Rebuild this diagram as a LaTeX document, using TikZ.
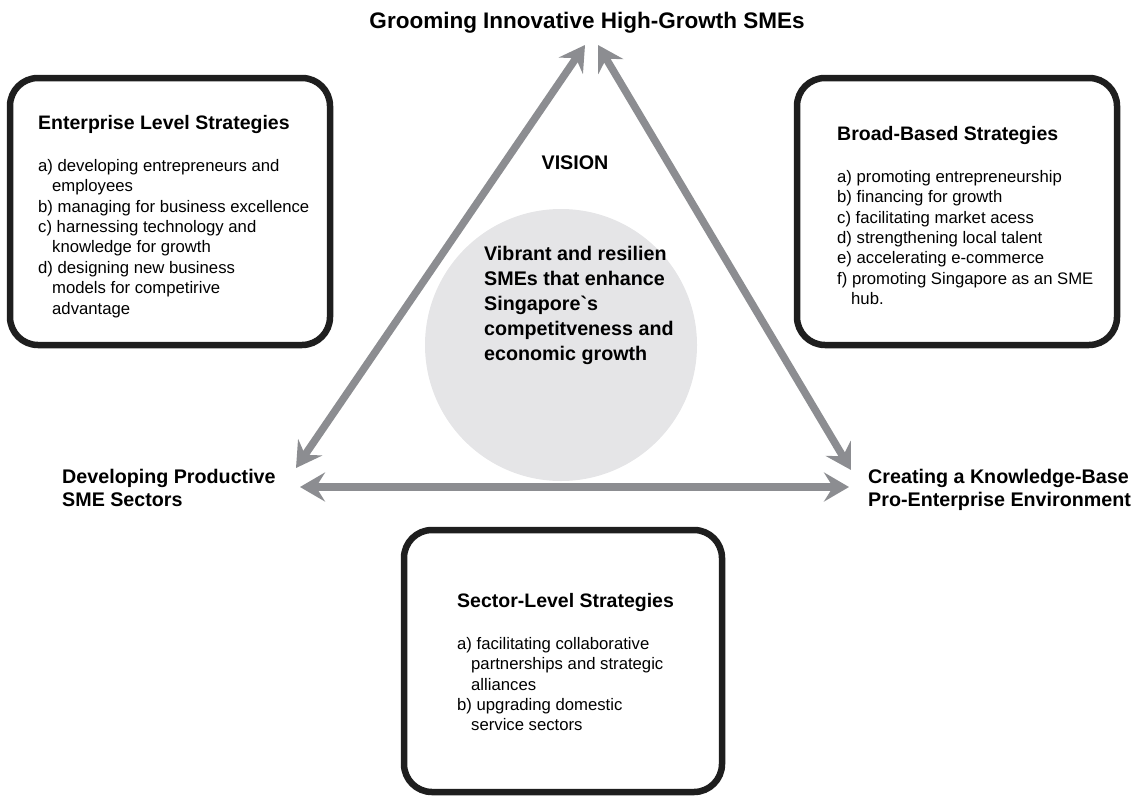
\documentclass[tikz,border=0pt]{standalone}
\usepackage{fontspec}
\setmainfont{Liberation Sans}[Ligatures=TeXOff]
\usetikzlibrary{arrows.meta}
\definecolor{arrowgray}{RGB}{140,141,145}
\definecolor{visiongray}{RGB}{229,229,231}
\definecolor{framegray}{RGB}{30,30,30}
\newcommand{\ind}{\hspace*{14pt}}

\begin{document}
\begin{tikzpicture}[x=1pt,y=-1pt,
    stratbox/.style={draw=framegray,line width=6.5pt,rounded corners=28pt},
    boxhead/.style={anchor=base west,inner sep=0pt,font=\fontsize{19.5}{24}\selectfont\bfseries},
    boxlist/.style={anchor=north west,align=left,inner sep=0pt,font=\fontsize{16.7}{20.4}\selectfont},
    corner/.style={anchor=north west,align=left,inner sep=0pt,font=\fontsize{19.7}{23.5}\selectfont\bfseries},
    twoway/.style={arrowgray,line width=7.5pt,{Stealth[length=25pt,width=29pt,inset=9pt]}-{Stealth[length=25pt,width=29pt,inset=9pt]}}]
        \useasboundingbox (0,0) rectangle (1137,795);
        % vision in the middle
        \fill[visiongray] (561,345) circle (136);
        \node[anchor=center,font=\fontsize{19.7}{24}\selectfont\bfseries] (vision) at (575,163) {VISION};
        \node[corner,font=\fontsize{19.7}{25}\selectfont\bfseries] (visiontext) at (484,246)
            {Vibrant and resilien\\SMEs that enhance\\Singapore`s\\competitveness and\\economic growth};
        % the three corners
        \node[anchor=base,inner sep=0pt,font=\fontsize{22.5}{26}\selectfont\bfseries] (grooming) at (587,28)
            {Grooming Innovative High-Growth SMEs};
        \node[corner] (developing) at (62,469) {Developing Productive\\SME Sectors};
        \node[corner] (creating) at (868,469) {Creating a Knowledge-Base\\Pro-Enterprise Environment};
        \coordinate (apexL) at (585,45);
        \coordinate (apexR) at (598,45);
        \coordinate (baseL) at (296,468);
        \coordinate (baseR) at (851,470);
        \coordinate (horL) at (300,487);
        \coordinate (horR) at (849,487);
        \draw[twoway] (baseL) -- (apexL);
        \draw[twoway] (apexR) -- (baseR);
        \draw[twoway] (horL) -- (horR);
        % strategy boxes
        \draw[stratbox] (10,78) rectangle (330,345);
        \node[boxhead] (enterprise) at (38,129) {Enterprise Level Strategies};
        \node[boxlist] (enterpriselist) at (38,159)
            {a) developing entrepreneurs and\\\ind employees\\b) managing for business excellence\\
             c) harnessing technology and\\\ind knowledge for growth\\d) designing new business\\
             \ind models for competirive\\\ind advantage};
        \draw[stratbox] (797,78) rectangle (1117,345);
        \node[boxhead] (broad) at (837,140) {Broad-Based Strategies};
        \node[boxlist] (broadlist) at (837,170)
            {a) promoting entrepreneurship\\b) financing for growth\\c) facilitating market acess\\
             d) strengthening local talent\\e) accelerating e-commerce\\
             f) promoting Singapore as an SME\\\ind hub.};
        \draw[stratbox] (404,530) rectangle (722,792);
        \node[boxhead] (sector) at (457,607) {Sector-Level Strategies};
        \node[boxlist] (sectorlist) at (457,637)
            {a) facilitating collaborative\\\ind partnerships and strategic\\\ind alliances\\
             b) upgrading domestic\\\ind service sectors};
    \end{tikzpicture}
\end{document}
